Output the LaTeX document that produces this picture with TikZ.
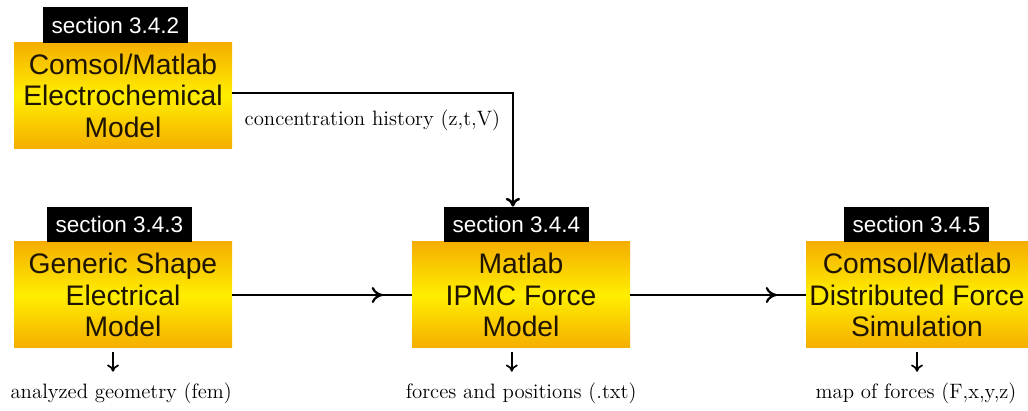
\documentclass[tikz,border=0pt]{standalone}
\usepackage{fontspec}
\usepackage{tikz}
\usetikzlibrary{decorations.markings}
\usetikzlibrary{arrows.meta}
\newfontfamily\boxfont{Liberation Sans}
\definecolor{boxorange}{HTML}{F5AE00}
\definecolor{boxyellow}{HTML}{FFEE00}
\definecolor{boxtext}{HTML}{1E1400}

\begin{document}
\begin{tikzpicture}[
        model/.style={minimum width=5.45cm, minimum height=2.65cm, inner sep=0pt, align=center,
            top color=boxorange, bottom color=boxorange, middle color=boxyellow,
            text=boxtext, font=\boxfont\fontsize{20.1}{22.4}\selectfont},
        sectab/.style={fill=black, text=white, minimum width=3.62cm, minimum height=0.88cm,
            inner sep=0pt, font=\boxfont\fontsize{16}{18}\selectfont},
        output/.style={inner sep=0pt, font=\fontsize{14.8}{17}\selectfont},
        flow/.style={line width=1.8pt, postaction={decorate},
            decoration={markings, mark=at position -0.72cm with {\arrow{To[length=0.28cm,width=0.4cm,line width=1.6pt]}}}},
        outarrow/.style={line width=1.2pt, -{To[length=0.18cm,width=0.3cm]}}
    ]
        \useasboundingbox (0,0) rectangle (25.7,10.25); % Keeps the margins of the page

        % The four models, each with its section tab on top
        \node[model] (em) at (3.075,7.8625) {Comsol/Matlab\\Electrochemical\\Model};
        \node[sectab] (tabem) at (2.8875,9.625) {section 3.4.2};

        \node[model] (gsm) at (3.075,2.875) {Generic Shape\\Electrical\\Model};
        \node[sectab] (tabgsm) at (2.9875,4.6375) {section 3.4.3};

        \node[model] (ipmc) at (13.025,2.875) {Matlab\\IPMC Force\\Model};
        \node[sectab] (tabipmc) at (12.9125,4.6375) {section 3.4.4};

        \node[model, minimum width=5.55cm] (dfs) at (22.925,2.875) {Comsol/Matlab\\Distributed Force\\Simulation};
        \node[sectab] (tabdfs) at (22.9125,4.6375) {section 3.4.5};

        % What each model hands on
        \node[output] (conc) at (9.31,7.25) {concentration history (z,t,V)};
        \node[output] (geo) at (3.03,0.42) {analyzed geometry (fem)};
        \node[output] (pos) at (13.03,0.42) {forces and positions (.txt)};
        \node[output] (map) at (22.9,0.42) {map of forces (F,x,y,z)};

        \draw[line width=1.8pt, -{To[length=0.22cm,width=0.36cm]}] ([yshift=0.06cm]em.east) -| ([xshift=-0.09cm]tabipmc.north);
        \draw[flow] (gsm.east) -- (ipmc.west);
        \draw[flow] (ipmc.east) -- (dfs.west);

        \draw[outarrow] ([xshift=-0.25cm,yshift=-0.1cm]gsm.south) -- ([xshift=-0.25cm,yshift=0.27cm]gsm.south |- geo.north);
        \draw[outarrow] ([xshift=-0.23cm,yshift=-0.1cm]ipmc.south) -- ([xshift=-0.23cm,yshift=0.27cm]ipmc.south |- pos.north);
        \draw[outarrow] ([yshift=-0.1cm]dfs.south) -- ([yshift=0.27cm]dfs.south |- map.north);
    \end{tikzpicture}
\end{document}
